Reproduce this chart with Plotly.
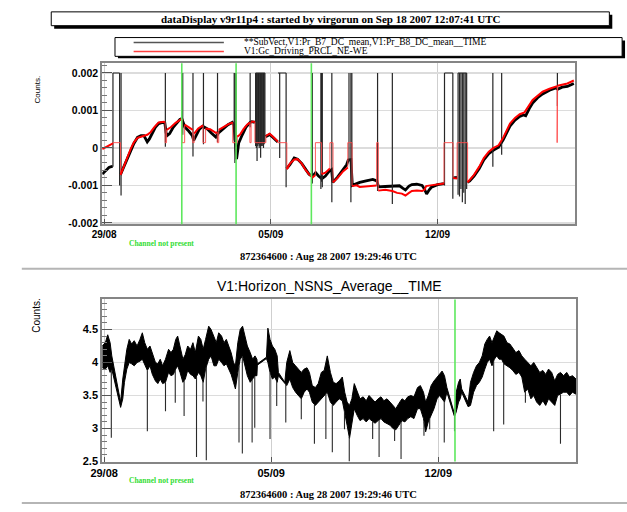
import plotly.graph_objects as go
import numpy as np

# ---------------- text ----------------
TITLE = "dataDisplay v9r11p4 : started by virgorun on Sep 18 2007 12:07:41 UTC"
LEGEND_LABELS = ["**SubVect,V1:Pr_B7_DC_mean,V1:Pr_B8_DC_mean__TIME", "V1:Gc_Driving_PRCL_NE-WE"]
BOTTOM_TITLE = "V1:Horizon_NSNS_Average__TIME"
TIME_LABEL = "872364600 : Aug 28 2007 19:29:46 UTC"
MISSING_LABEL = "Channel not present"
Y_TITLE = "Counts."

# ---------------- axes ----------------
X_TICK_DAYS = [0, 7, 14]                      # days since 29/08 00:00
X_TICK_LABELS = ["29/08", "05/09", "12/09"]
X_RANGE = [-0.08, 19.77]
TOP_Y_TICKS = [-0.002, -0.001, 0, 0.001, 0.002]
TOP_Y_LABELS = ["-0.002", "-0.001", "0", "0.001", "0.002"]
BOT_Y_TICKS = [2.5, 3, 3.5, 4, 4.5]
BOT_Y_LABELS = ["2.5", "3", "3.5", "4", "4.5"]

# ---------------- top panel data (values in 1e-3 counts) ----------------
BLK_DAY = [-0.08, 0.00, 0.10, 0.20, 0.30, 0.36, None,
           0.68, 0.75, 0.85, 1.00, 1.12, 1.25, 1.40, 1.55, 1.67, 1.75, 1.81, 1.90, 2.00, 2.15,
           2.29, 2.45, 2.55, 2.60, 2.65, 2.75, 2.90, 3.05, 3.18, 3.26, 3.33, 3.39, 3.55, 3.70,
           3.76, 3.85, 4.00, 4.14, 4.20, 4.35, 4.50, 4.69, 4.80, 5.00, 5.20, 5.38, 5.45, 5.56,
           5.65, 5.80, 5.95, 6.13, 6.20, 6.33, None,
           6.78, 6.95, 7.09, 7.20, 7.29, None,
           7.66, 7.80, 7.98, 8.12, 8.30, 8.45, 8.60, 8.72, 8.80, 8.88, 9.00, 9.14, 9.29, 9.45,
           9.55, 9.60, 9.80, 10.04, 10.18, 10.25, 10.36, 10.42, 10.60, 10.73, 11.00, 11.28,
           11.45, 11.52, 11.80, 12.08, 12.20, 12.40, 12.55, 12.65, 12.80, 12.92, 13.13, 13.35,
           13.45, 13.54, 13.65, 13.74, 14.00, 14.27, None,
           14.66, 14.82, None,
           15.25, 15.35, 15.53, 15.75, 15.94, 16.15, 16.35, 16.56, 16.76, 16.90, 17.04, 17.25,
           17.45, 17.60, 17.70, 17.85, 17.99, 18.20, 18.41, 18.70, 18.96, 19.05, 19.23, 19.45,
           19.60, 19.72]
BLK_MV = [-0.70, -0.65, -0.58, -0.52, -0.50, -0.49, None,
          -0.72, -0.62, -0.45, -0.25, -0.05, 0.12, 0.28, 0.33, 0.33, 0.25, 0.16, 0.24, 0.38, 0.55,
          0.65, 0.68, 0.66, 0.40, 0.33, 0.38, 0.55, 0.68, 0.76, 0.78, 0.62, 0.55, 0.45, 0.33,
          0.20, 0.33, 0.50, 0.58, 0.55, 0.50, 0.40, 0.29, 0.40, 0.52, 0.62, 0.68, 0.60, -0.30,
          0.13, 0.35, 0.55, 0.68, 0.70, 0.68, None,
          0.30, 0.36, 0.28, 0.20, 0.16, None,
          -0.55, -0.45, -0.27, -0.30, -0.42, -0.55, -0.70, -0.75, -0.72, -0.66, -0.75, -0.82, -0.75, -0.62,
          -0.58, -0.92, -0.78, -0.57, -0.45, -0.32, -0.31, -1.00, -0.95, -0.92, -0.88, -0.84,
          -0.88, -1.04, -1.03, -1.02, -1.00, -1.01, -1.08, -1.12, -1.02, -0.98, -0.97, -1.00,
          -1.10, -1.23, -1.12, -1.05, -0.98, -0.95, None,
          -0.80, -0.79, None,
          -0.92, -0.88, -0.75, -0.55, -0.32, -0.15, -0.06, 0.02, 0.22, 0.42, 0.58, 0.74,
          0.84, 0.88, 0.86, 1.05, 1.20, 1.34, 1.44, 1.54, 1.60, 1.57, 1.62, 1.64,
          1.68, 1.72]

BLK_SAT = 2.0   # saturation level of the black trace
BLK_SPIKE_DAY = [0.37, 0.65, 0.71, 2.57, 3.27, 3.30, 3.73, 4.17, 4.76, 5.46, 5.49, 5.52, 5.55, 6.13,
                 6.36, 6.39, 6.42, 6.45, 6.48, 6.51, 6.54, 6.57, 6.60, 6.63, 6.66, 6.69, 6.72, 6.75,
                 7.37, 7.64, 8.74, 9.10, 9.13, 9.16, 9.56, 10.28, 10.36, 10.40, 11.48, 12.10,
                 14.29, 14.64, 14.86, 14.92, 14.98, 15.04, 15.10, 15.16, 15.22, 16.32, 16.69, 19.03]
BLK_SPIKE_LOW = [-0.50, -1.00, -1.27, 0.03, 0.40, 0.35, -0.23, 0.10, 0.15, 0.20, -0.40, -0.30, 0.00, 0.55,
                 0.05, 0.00, -0.35, 0.05, 0.10, 0.00, 0.05, -0.26, 0.05, 0.10, 0.05, 0.00, 0.10, 0.15,
                 -0.27, -1.05, -0.95, -1.10, -0.90, -1.05, -1.45, -0.35, -1.45, -1.00, -1.15, -1.50,
                 -1.00, -1.36, -1.25, -1.30, -1.10, -1.45, -1.20, -1.50, -1.10, -0.50, -0.18, 1.12]
BLK_PLATEAU_START = [0.37, 6.36, 7.30, 14.29, 14.86]
BLK_PLATEAU_END = [0.65, 6.75, 7.64, 14.64, 15.22]

# red: valid stretches (None separates them), and "no data" steps at RED_GAP_LEVEL
RED_DAY = [-0.08, 0.00, 0.15, 0.30, 0.37, None,
           0.69, 0.75, 0.85, 1.00, 1.12, 1.25, 1.40, 1.55, 1.67, 1.81, 1.95, 2.10, 2.29, 2.50, 2.56, None,
           2.62, 2.80, 3.00, 3.18, 3.27, None,
           3.38, 3.55, 3.72, None,
           3.78, 3.95, 4.15, None,
           4.26, 4.45, 4.69, 4.75, None,
           4.81, 5.00, 5.20, 5.40, None,
           5.59, 5.70, 5.85, 6.00, 6.12, None,
           6.17, 6.33, None,
           6.79, 6.95, 7.09, 7.25, 7.29, None,
           7.67, 7.80, 7.98, 8.12, 8.30, 8.45, 8.60, 8.75, 8.87, None,
           9.13, 9.29, 9.48, None,
           9.61, 9.80, 10.04, 10.23, None,
           10.41, 10.60, 10.73, 11.00, 11.28, 11.44, None,
           11.51, 11.80, 12.10, 12.30, 12.50, 12.65, 12.80, 12.92, 13.13, 13.35, 13.45, 13.52, 13.70,
           14.00, 14.27, None,
           14.65, 14.82, None,
           15.26, 15.53, 15.75, 15.94, 16.15, 16.35, 16.56, 16.76, 17.04, 17.25, 17.45, 17.65, 17.99,
           18.41, 18.70, 18.96, 19.02, None,
           19.04, 19.23, 19.45, 19.72]
RED_MV = [-0.03, 0.00, 0.05, 0.10, 0.12, None,
          -0.72, -0.62, -0.42, -0.22, -0.02, 0.15, 0.27, 0.30, 0.32, 0.35, 0.42, 0.55, 0.68, 0.70, 0.68, None,
          0.48, 0.55, 0.67, 0.75, 0.78, None,
          0.62, 0.55, 0.48, None,
          0.38, 0.52, 0.60, None,
          0.52, 0.50, 0.40, 0.42, None,
          0.48, 0.55, 0.63, 0.68, None,
          0.30, 0.35, 0.50, 0.62, 0.68, None,
          0.70, 0.70, None,
          0.32, 0.38, 0.30, 0.20, 0.17, None,
          -0.57, -0.42, -0.31, -0.30, -0.42, -0.58, -0.70, -0.79, -0.72, None,
          -0.70, -0.66, -0.55, None,
          -0.92, -0.80, -0.62, -0.52, None,
          -1.02, -1.00, -1.04, -1.03, -1.01, -1.00, None,
          -1.14, -1.12, -1.15, -1.20, -1.22, -1.27, -1.20, -1.15, -1.14, -1.15, -1.12, -1.02, -1.00,
          -0.98, -0.95, None,
          -0.80, -0.82, None,
          -0.92, -0.72, -0.50, -0.27, -0.10, 0.00, 0.07, 0.28, 0.65, 0.80, 0.90, 0.95, 1.28,
          1.50, 1.58, 1.65, 1.65, None,
          1.66, 1.68, 1.72, 1.80]
RED_GAP_LEVEL = 0.14
RED_GAP_START = [0.37, 2.56, 3.27, 3.72, 4.15, 4.75, 5.40, 6.12, 6.33, 7.29, 8.87, 9.48, 10.23, 11.44,
                 14.27, 14.82, 19.02]
RED_GAP_END = [0.69, 2.62, 3.38, 3.78, 4.26, 4.81, 5.59, 6.17, 6.79, 7.67, 9.13, 9.61, 10.41, 11.51,
               14.65, 15.26, 19.04]

TOP_MISSING_DAYS = [3.26, 5.54, 8.70]

# ---------------- bottom panel data ----------------
BOT_DAY = [-0.08, 0.05, 0.15, 0.25, 0.32, 0.69, 0.78, 0.85, 0.95, 1.05, 1.15, 1.26, 1.38, 1.50, 1.60,
           1.70, 1.81, 1.92, 2.02, 2.15, 2.25, 2.35, 2.45, 2.57, 2.70, 2.80, 2.90, 3.00, 3.08, 3.18,
           3.30, 3.40, 3.50, 3.62, 3.72, 3.82, 3.95, 4.05, 4.15, 4.25, 4.38, 4.48, 4.60, 4.70, 4.80,
           4.92, 5.02, 5.12, 5.22, 5.32, 5.42, 5.50, 5.60, 5.70, 5.80, 5.90, 6.00, 6.12, 6.22, 6.32,
           6.40, 6.42, 6.80, 6.86, 6.95, 7.05, 7.15, 7.25, 7.30, 7.57, 7.65, 7.78, 7.90, 8.02, 8.15,
           8.26, 8.38, 8.50, 8.60, 8.72, 8.85, 8.97, 9.10, 9.22, 9.35, 9.48, 9.60, 9.72, 9.85, 9.98,
           10.08, 10.18, 10.28, 10.38, 10.48, 10.60, 10.72, 10.85, 10.98, 11.10, 11.22, 11.35, 11.48,
           11.60, 11.72, 11.85, 11.98, 12.10, 12.22, 12.35, 12.48, 12.60, 12.72, 12.85, 12.98, 13.13,
           13.25, 13.38, 13.47, 13.58, 13.70, 13.82, 13.95, 14.05, 14.16, 14.26, 14.36, 14.68, 14.75,
           14.85, 14.92, 14.98, 15.25, 15.35, 15.48, 15.60, 15.72, 15.84, 15.95, 16.05, 16.15, 16.25,
           16.35, 16.45, 16.55, 16.65, 16.75, 16.88, 17.00, 17.12, 17.25, 17.38, 17.50, 17.62, 17.75,
           17.88, 18.00, 18.12, 18.25, 18.38, 18.50, 18.62, 18.75, 18.88, 19.00, 19.12, 19.25, 19.38,
           19.50, 19.62, 19.77]
BOT_HI = [4.25, 4.30, 4.42, 4.30, 4.10, 3.40, 3.75, 3.95, 4.20, 4.35, 4.28, 4.33, 4.25, 4.35, 4.45,
          4.30, 4.20, 4.25, 4.15, 4.00, 3.98, 4.05, 3.95, 4.05, 4.20, 4.15, 4.20, 4.35, 4.40, 4.25,
          4.05, 4.12, 4.25, 4.20, 4.30, 4.15, 4.40, 4.35, 4.20, 4.35, 4.55, 4.50, 4.40, 4.30, 4.45,
          4.40, 4.30, 4.35, 4.25, 4.15, 4.00, 3.95, 4.30, 4.50, 4.55, 4.40, 4.25, 4.15, 4.05, 4.10,
          4.05, 3.98, 4.08, 4.52, 4.35, 4.25, 4.20, 4.10, 3.85, 3.70, 4.00, 4.18, 4.00, 3.95, 3.90,
          3.85, 3.90, 3.92, 3.85, 3.65, 3.62, 3.68, 3.85, 3.88, 4.10, 3.85, 3.70, 3.68, 3.72, 3.78,
          3.55, 3.40, 3.35, 3.45, 3.68, 3.55, 3.45, 3.48, 3.42, 3.50, 3.45, 3.40, 3.45,
          3.48, 3.42, 3.45, 3.40, 3.35, 3.30, 3.38, 3.45, 3.42, 3.48, 3.50, 3.48, 3.62,
          3.65, 3.55, 3.40, 3.50, 3.65, 3.72, 3.78, 3.82, 3.87, 3.80, 3.62, 3.22, 3.55,
          3.70, 3.75, 3.60, 3.40, 3.70, 3.85, 3.95, 4.00, 4.10, 4.28, 4.35, 4.40, 4.30,
          4.40, 4.48, 4.45, 4.42, 4.40, 4.30, 4.28, 4.22, 4.15, 4.18, 4.10, 4.05, 4.00,
          3.95, 4.00, 3.92, 3.85, 3.88, 3.82, 3.90, 3.85, 3.72, 3.82, 3.85, 3.80, 3.85,
          3.78, 3.80, 3.75]
BOT_LO = [3.92, 3.90, 3.95, 3.85, 3.90, 3.32, 3.45, 3.70, 3.90, 4.00, 3.98, 3.95, 4.00, 4.02, 4.05,
          3.98, 3.88, 3.95, 3.82, 3.72, 3.68, 3.75, 3.68, 3.70, 3.85, 3.80, 3.82, 3.90, 3.95, 3.85,
          3.70, 3.75, 3.88, 3.82, 3.80, 3.75, 3.85, 3.80, 3.70, 3.90, 4.05, 4.10, 3.95, 3.95, 4.05,
          4.00, 3.95, 3.98, 3.90, 3.82, 3.70, 3.60, 3.85, 4.05, 4.10, 3.95, 3.80, 3.70, 3.75, 3.80,
          3.80, 3.96, 4.06, 4.00, 3.85, 3.75, 3.78, 3.70, 3.80, 3.68, 3.65, 3.75, 3.62, 3.55, 3.50,
          3.45, 3.55, 3.60, 3.55, 3.40, 3.35, 3.40, 3.45, 3.50, 3.55, 3.40, 3.35, 3.40, 3.45, 3.42,
          3.25, 3.05, 2.85, 3.05, 3.30, 3.20, 3.12, 3.15, 3.10, 3.15, 3.12, 3.08, 3.12,
          3.15, 3.10, 3.08, 3.05, 3.00, 2.98, 3.05, 3.12, 3.10, 3.15, 3.18, 3.15, 3.30,
          3.30, 3.15, 2.95, 3.10, 3.20, 3.30, 3.45, 3.50, 3.45, 3.40, 3.55, 3.18, 3.25,
          3.40, 3.45, 3.55, 3.33, 3.35, 3.55, 3.65, 3.70, 3.78, 3.90, 4.00, 4.05, 3.95,
          4.05, 4.10, 4.05, 4.05, 3.98, 3.95, 3.92, 3.88, 3.82, 3.85, 3.78, 3.55, 3.60,
          3.45, 3.50, 3.40, 3.35, 3.42, 3.35, 3.45, 3.40, 3.35, 3.50, 3.52, 3.55, 3.55,
          3.50, 3.55, 3.52]

BOT_SPIKE_DAY = [0.30, 1.81, 2.57, 2.98, 3.35, 3.87, 4.14, 4.28, 5.65, 5.79, 6.20, 6.31, 6.95, 7.23,
                 7.61, 8.26, 8.81, 9.29, 9.56, 10.07, 10.27, 11.25, 11.52, 12.17, 12.44, 13.40,
                 13.64, 14.25, 14.68, 16.32, 16.74, 17.65, 19.12]
BOT_SPIKE_MIN = [2.86, 2.96, 3.26, 3.39, 3.19, 2.57, 3.41, 2.52, 2.79, 2.62, 2.79, 3.01, 2.84, 3.34,
                 3.09, 3.14, 2.77, 2.84, 2.64, 2.99, 2.50, 2.84, 2.57, 2.81, 2.54, 2.89,
                 2.99, 2.79, 2.96, 2.96, 3.06, 3.39, 2.77]

BOT_MISSING_DAYS = [14.70]

# ---------------- geometry helpers (page pixels -> paper) ----------------
W, H = 627, 512
def px(x):
    return x / W
def py(y):
    return 1 - y / H

MILLI = 1e-3
def scale(vals):
    return [None if v is None else v * MILLI for v in vals]

fig = go.Figure()

# top panel: black base
fig.add_trace(go.Scatter(x=BLK_DAY, y=scale(BLK_MV), mode="lines",
                         line=dict(color="black", width=2.8), xaxis="x", yaxis="y",
                         showlegend=False, hoverinfo="skip"))
# black spikes / saturation
sx, sy = [], []
for d, lo in zip(BLK_SPIKE_DAY, BLK_SPIKE_LOW):
    sx += [d, d, None]
    sy += [BLK_SAT, lo, None]
for a, b in zip(BLK_PLATEAU_START, BLK_PLATEAU_END):
    sx += [a, b, None]
    sy += [BLK_SAT, BLK_SAT, None]
fig.add_trace(go.Scatter(x=sx, y=scale(sy), mode="lines",
                         line=dict(color="#262626", width=1.2), xaxis="x", yaxis="y",
                         showlegend=False, hoverinfo="skip"))
# red "no data" steps (thin), joined to the ends of the valid stretches
red_ok = [(d, v) for d, v in zip(RED_DAY, RED_MV) if d is not None]
gx, gy = [], []
for a, b in zip(RED_GAP_START, RED_GAP_END):
    va = min(red_ok, key=lambda p: abs(p[0] - a))[1]
    vb = min(red_ok, key=lambda p: abs(p[0] - b))[1]
    gx += [a, a, b, b, None]
    gy += [va, RED_GAP_LEVEL, RED_GAP_LEVEL, vb, None]
fig.add_trace(go.Scatter(x=gx, y=scale(gy), mode="lines",
                         line=dict(color="#ff4a4a", width=0.9), xaxis="x", yaxis="y",
                         showlegend=False, hoverinfo="skip"))
# red valid data
fig.add_trace(go.Scatter(x=RED_DAY, y=scale(RED_MV), mode="lines",
                         line=dict(color="#ff0000", width=2.0), xaxis="x", yaxis="y",
                         showlegend=False, hoverinfo="skip"))

# bottom panel band
fig.add_trace(go.Scatter(x=BOT_DAY, y=BOT_LO, mode="lines",
                         line=dict(color="black", width=1), xaxis="x2", yaxis="y2",
                         showlegend=False, hoverinfo="skip"))
fig.add_trace(go.Scatter(x=BOT_DAY, y=BOT_HI, mode="lines", fill="tonexty",
                         fillcolor="black", line=dict(color="black", width=1),
                         xaxis="x2", yaxis="y2", showlegend=False, hoverinfo="skip"))
bx, by = [], []
for d, m in zip(BOT_SPIKE_DAY, BOT_SPIKE_MIN):
    start = float(np.interp(d, BOT_DAY, BOT_LO))
    bx += [d, d, None]
    by += [start, m, None]
fig.add_trace(go.Scatter(x=bx, y=by, mode="lines", line=dict(color="#2a2a2a", width=1.1),
                         xaxis="x2", yaxis="y2", showlegend=False, hoverinfo="skip"))

tickfont = dict(family="Liberation Sans", size=10, color="black", weight="bold")
frame = dict(showline=True, linecolor="#858585", linewidth=2, mirror=True)

fig.update_layout(
    width=W, height=H, margin=dict(l=0, r=0, t=0, b=0),
    paper_bgcolor="white", plot_bgcolor="white", showlegend=False,
    xaxis=dict(domain=[px(92), px(574)], anchor="y", range=X_RANGE,
               tickmode="array", tickvals=X_TICK_DAYS, ticktext=X_TICK_LABELS,
               ticks="inside", ticklen=5, tickcolor="#555", tickfont=tickfont,
               showgrid=True, gridcolor="#cfcfcf", gridwidth=1, zeroline=False, **frame),
    yaxis=dict(domain=[py(227), py(64)], anchor="x", range=[-0.00204, 0.00226],
               tickmode="array", tickvals=TOP_Y_TICKS, ticktext=TOP_Y_LABELS,
               ticks="inside", ticklen=10, tickcolor="#555",
               tickfont=dict(family="Liberation Sans", size=10.5, color="black", weight="bold"),
               minor=dict(tickmode="linear", tick0=0, dtick=0.0002, ticks="inside",
                          ticklen=5, tickcolor="#777", showgrid=False),
               showgrid=True, gridcolor="#dcdcdc", gridwidth=1.5, zeroline=False, **frame),
    xaxis2=dict(domain=[px(92), px(575)], anchor="y2", range=X_RANGE,
                tickmode="array", tickvals=X_TICK_DAYS, ticktext=X_TICK_LABELS,
                ticks="inside", ticklen=5, tickcolor="#555",
                tickfont=dict(family="Liberation Sans", size=11, color="black", weight="bold"),
                showgrid=True, gridcolor="#cfcfcf", gridwidth=1, zeroline=False, **frame),
    yaxis2=dict(domain=[py(467), py(303)], anchor="x2", range=[2.5, 4.955],
                tickmode="array", tickvals=BOT_Y_TICKS, ticktext=BOT_Y_LABELS,
                ticks="inside", ticklen=10, tickcolor="#555",
                tickfont=dict(family="Liberation Sans", size=11, color="black", weight="bold"),
                minor=dict(tickmode="linear", tick0=2.5, dtick=0.1, ticks="inside",
                           ticklen=5, tickcolor="#777", showgrid=False),
                showgrid=True, gridcolor="#dcdcdc", gridwidth=1.5, zeroline=False, **frame),
)

shapes = []
# missing-channel markers
for d in TOP_MISSING_DAYS:
    shapes.append(dict(type="line", xref="x", yref="y domain", x0=d, x1=d, y0=0, y1=1,
                       line=dict(color="#5ee85e", width=1.6)))
for d in BOT_MISSING_DAYS:
    shapes.append(dict(type="line", xref="x2", yref="y2 domain", x0=d, x1=d, y0=0, y1=1,
                       line=dict(color="#5ee85e", width=1.6)))
# title box with shadow
shapes.append(dict(type="rect", xref="paper", yref="paper", x0=px(43), x1=px(612), y0=py(29), y1=py(15),
                   fillcolor="black", line=dict(width=0), layer="below"))
shapes.append(dict(type="rect", xref="paper", yref="paper", x0=px(40), x1=px(609), y0=py(26), y1=py(12),
                   fillcolor="white", line=dict(color="black", width=1), layer="below"))
# legend box with shadow
shapes.append(dict(type="rect", xref="paper", yref="paper", x0=px(108), x1=px(625), y0=py(59), y1=py(41),
                   fillcolor="black", line=dict(width=0), layer="below"))
shapes.append(dict(type="rect", xref="paper", yref="paper", x0=px(105), x1=px(622), y0=py(57), y1=py(38),
                   fillcolor="white", line=dict(color="black", width=1), layer="below"))
shapes.append(dict(type="line", xref="paper", yref="paper", x0=px(124), x1=px(216), y0=py(43), y1=py(43),
                   line=dict(color="#555555", width=1.5), layer="below"))
shapes.append(dict(type="line", xref="paper", yref="paper", x0=px(124), x1=px(216), y0=py(52), y1=py(52),
                   line=dict(color="#ff4040", width=1.5), layer="below"))
# separators
for yy in (272, 509):
    shapes.append(dict(type="line", xref="paper", yref="paper", x0=px(10), x1=1, y0=py(yy), y1=py(yy),
                       line=dict(color="#b5b5b5", width=2), layer="below"))
fig.update_layout(shapes=shapes)

serif = "Liberation Serif"
def note(text, x, y, font, xanchor="center", angle=0):
    return dict(text=text, x=px(x), y=py(y), xref="paper", yref="paper", xanchor=xanchor,
                yanchor="middle", textangle=angle, showarrow=False, font=font)

ann = [
    note("<b>" + TITLE + "</b>", 325, 19, dict(family=serif, size=11, color="black")),
    note(LEGEND_LABELS[0], 234, 43, dict(family=serif, size=9.5, color="black"), xanchor="left"),
    note(LEGEND_LABELS[1], 234, 52, dict(family=serif, size=9.5, color="black"), xanchor="left"),
    note(Y_TITLE, 26, 91, dict(family="Liberation Sans", size=8, color="black"), angle=-90),
    note(Y_TITLE, 25, 320, dict(family="Liberation Sans", size=10, color="black"), angle=-90),
    note(BOTTOM_TITLE, 324, 289, dict(family="Liberation Sans", size=14, color="black")),
]
for yy in (246, 486):
    ann.append(note("<b>" + MISSING_LABEL + "</b>", 152, yy, dict(family=serif, size=7.5, color="#33dd33")))
for yy in (260, 500):
    ann.append(note("<b>" + TIME_LABEL + "</b>", 323, yy, dict(family=serif, size=10.5, color="black")))
fig.update_layout(annotations=ann)

fig.write_html("out.html", config={"displayModeBar": False, "staticPlot": True},
               post_script="document.body.style.margin='0';document.body.style.padding='0';"
                           "document.body.style.overflow='hidden';")
